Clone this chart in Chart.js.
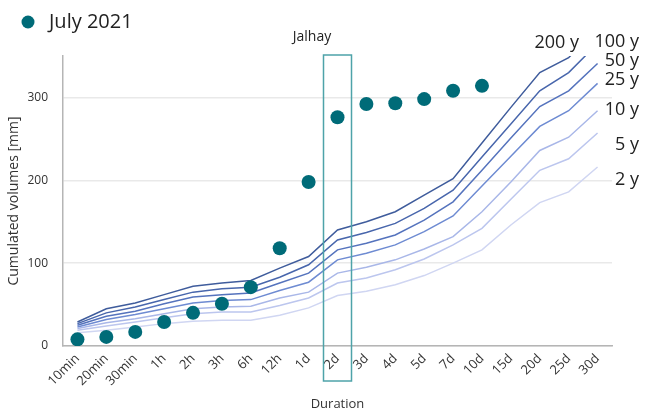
<!DOCTYPE html>
<html>
<head>
<meta charset="utf-8">
<script src="https://cdn.jsdelivr.net/npm/chart.js@4.4.0/dist/chart.umd.min.js"></script>
<style>
  html, body { margin: 0; padding: 0; background: #fff; }
  #wrap { width: 654px; height: 413px; position: relative; }
</style>
</head>
<body>
<div id="wrap"><canvas id="c" width="654" height="413"></canvas></div>
<script>
const categories = ['10min','20min','30min','1h','2h','3h','6h','12h','1d','2d','3d','4d','5d','7d','10d','15d','20d','25d','30d'];
const july2021 = [8, 11, 17, 29, 40, 51, 71, 118, 198, 276, 292, 293, 298, 308, 314, null, null, null, null];
const rp200 = [29, 45, 52, 62, 72, 76, 79, 94, 108, 140, 150, 162, 182, 202, 245, 288, 330, 348, 385];
const rp100 = [27, 40, 47, 56, 65, 69, 71, 83, 98, 128, 137, 148, 166, 188, 228, 268, 308, 330, 365];
const rp50  = [25, 36, 42, 51, 59, 62, 64, 76, 88, 116, 124, 134, 152, 174, 212, 251, 289, 308, 341];
const rp25  = [23, 32, 38, 45, 52, 55, 56, 67, 77, 104, 112, 122, 138, 157, 193, 229, 265, 284, 317];
const rp10  = [21, 28, 33, 39, 45, 47, 48, 58, 65, 88, 95, 104, 117, 132, 162, 198, 236, 252, 284];
const rp5   = [19, 24, 29, 34, 39, 41, 41, 49, 58, 76, 82, 92, 105, 122, 142, 177, 212, 226, 257];
const rp2   = [16, 19, 23, 27, 30, 31, 31, 37, 46, 61, 66, 74, 85, 100, 116, 146, 173, 186, 216];
const yTicks = [0, 100, 200, 300];
const highlightCategory = '2d';
const stationName = 'Jalhay';
const eventLabel = 'July 2021';
const rpLabels = [
  {text: '200 y', x: 579, y: 43},
  {text: '100 y', x: 639, y: 42},
  {text: '50 y',  x: 639, y: 61},
  {text: '25 y',  x: 639, y: 80},
  {text: '10 y',  x: 639, y: 110},
  {text: '5 y',   x: 639, y: 145},
  {text: '2 y',   x: 639, y: 180}
];

const FONT = '"Open Sans", "Noto Sans", sans-serif';
const dotColor = '#006b78';

const rpSeries = [
  {label: '2 y', data: rp2, color: '#d0d6f2'},
  {label: '5 y', data: rp5, color: '#bcc6ee'},
  {label: '10 y', data: rp10, color: '#a9b7e8'},
  {label: '25 y', data: rp25, color: '#6e8bd2'},
  {label: '50 y', data: rp50, color: '#5573bd'},
  {label: '100 y', data: rp100, color: '#4866ac'},
  {label: '200 y', data: rp200, color: '#3f5c9c'}
];

const datasets = rpSeries.map(s => ({
  type: 'line',
  label: s.label,
  data: s.data,
  borderColor: s.color,
  backgroundColor: s.color,
  borderWidth: 1.5,
  pointRadius: 0,
  tension: 0,
  fill: false,
  order: 2
}));
datasets.push({
  type: 'line',
  label: eventLabel,
  data: july2021,
  showLine: false,
  pointRadius: 7,
  pointHoverRadius: 7,
  pointBackgroundColor: dotColor,
  pointBorderWidth: 0,
  borderColor: dotColor,
  order: 1
});

const decor = {
  id: 'decor',
  afterDraw(chart) {
    const ctx = chart.ctx;
    const xs = chart.scales.x;
    const ca = chart.chartArea;
    ctx.save();
    // highlight box
    const idx = categories.indexOf(highlightCategory);
    const cx = xs.getPixelForValue(idx);
    ctx.strokeStyle = '#4ea3a9';
    ctx.lineWidth = 1.5;
    ctx.strokeRect(cx - 14, ca.top - 1, 28, 381 - ca.top + 1);
    // title
    ctx.fillStyle = '#222';
    ctx.font = '14px ' + FONT;
    ctx.textAlign = 'center';
    ctx.textBaseline = 'middle';
    ctx.fillText(stationName, 312, 37);
    // legend
    ctx.beginPath();
    ctx.arc(28, 22, 6.5, 0, Math.PI * 2);
    ctx.fillStyle = dotColor;
    ctx.fill();
    ctx.fillStyle = '#222';
    ctx.font = '20px ' + FONT;
    ctx.textAlign = 'left';
    ctx.fillText(eventLabel, 49, 22);
    // return period labels
    ctx.font = '18px ' + FONT;
    ctx.textAlign = 'right';
    rpLabels.forEach(l => ctx.fillText(l.text, l.x, l.y));
    ctx.restore();
  }
};

new Chart(document.getElementById('c'), {
  data: { labels: categories, datasets },
  options: {
    responsive: false,
    animation: false,
    devicePixelRatio: 1,
    layout: { padding: { top: 56, right: 42, left: 0, bottom: 0 } },
    plugins: { legend: { display: false }, tooltip: { enabled: false }, title: { display: false } },
    scales: {
      x: {
        type: 'category',
        offset: true,
        grid: { display: false, drawTicks: false },
        border: { display: true, color: '#b5b5b5', width: 1.5 },
        ticks: {
          minRotation: 45, maxRotation: 45, autoSkip: false,
          color: '#333', font: { family: FONT, size: 13 }, padding: 5
        },
        title: { display: true, text: 'Duration', color: '#333', font: { family: FONT, size: 13 }, padding: { top: 0, bottom: 1 } },
        afterFit: s => { s.height = 67; }
      },
      y: {
        min: 0, max: 350,
        afterBuildTicks: s => { s.ticks = yTicks.map(v => ({ value: v })); },
        grid: { color: '#e9e9e9', lineWidth: 1.5, drawTicks: false },
        border: { display: true, color: '#b5b5b5', width: 1.5 },
        ticks: { color: '#333', font: { family: FONT, size: 12 }, padding: 15 },
        title: { display: true, text: 'Cumulated volumes [mm]', color: '#333', font: { family: FONT, size: 14 }, padding: { top: 6, bottom: 0 } },
        afterFit: s => { s.width = 63; }
      }
    }
  },
  plugins: [decor]
});
</script>
</body>
</html>
